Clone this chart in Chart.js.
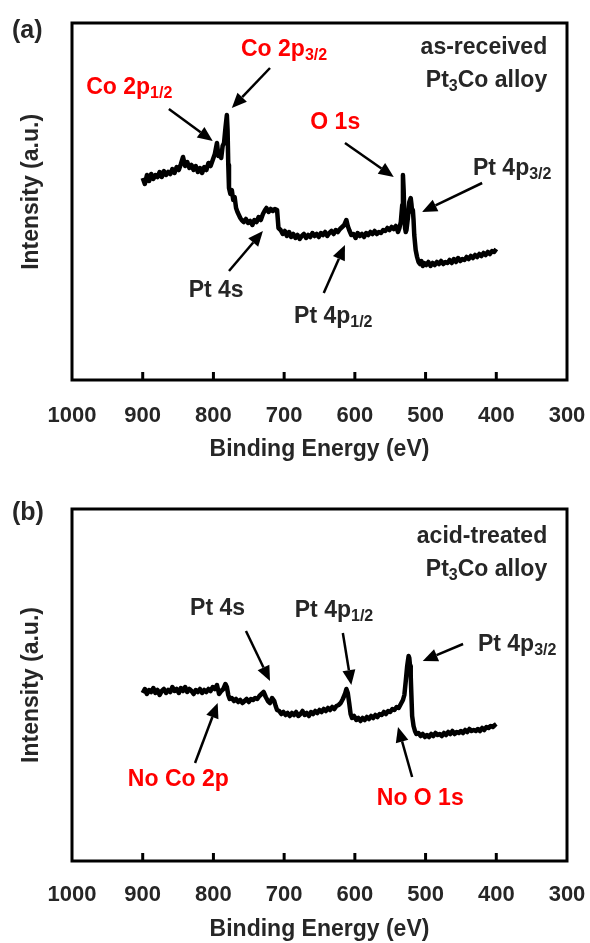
<!DOCTYPE html>
<html>
<head>
<meta charset="utf-8">
<script src="https://cdn.jsdelivr.net/npm/chart.js@4.4.0/dist/chart.umd.min.js"></script>
<style>
  body { margin: 0; background: #fff; }
  .panel { position: relative; width: 590px; }
  #wrapA { height: 471px; }
  #wrapB { height: 472px; }
</style>
</head>
<body>
<div class="panel" id="wrapA"><canvas id="chartA"></canvas></div>
<div class="panel" id="wrapB"><canvas id="chartB"></canvas></div>
<script>
// x axis (binding energy, reversed) tick labels
const xTicks = [1000, 900, 800, 700, 600, 500, 400, 300];
const innerTicks = [900, 800, 700, 600, 500, 400];

// (a) as-received Pt3Co
const energyA = [900, 897, 894, 891, 888, 885, 882, 879, 876, 873, 870, 867, 864, 861, 858, 855, 852, 849, 846, 843,
  840, 837, 834, 831, 828, 825, 822, 819, 816, 813, 810, 807, 804, 801, 798, 795, 793, 791, 789, 787,
  785, 783, 781, 780, 779, 778, 776, 774, 772, 770, 768, 766, 764, 762, 760, 757, 754, 751, 748, 745,
  742, 739, 736, 733, 730, 727, 725, 722, 719, 716, 713, 710, 708, 705, 702, 699, 696, 693, 690, 687,
  684, 681, 678, 675, 672, 669, 666, 663, 660, 657, 654, 651, 648, 645, 642, 639, 636, 633, 630, 627,
  624, 621, 618, 615, 612, 610, 608, 605, 602, 599, 596, 593, 590, 587, 584, 581, 578, 575, 572, 569,
  566, 563, 560, 557, 554, 551, 548, 545, 542, 539, 537, 535, 533, 532, 531, 530, 529, 528, 527, 525,
  523, 521, 520, 519, 518, 517, 516, 514, 512, 510, 508, 506, 504, 502, 499, 496, 493, 490, 487, 484,
  481, 478, 475, 472, 469, 466, 463, 460, 457, 454, 451, 448, 445, 442, 439, 436, 433, 430, 427, 424,
  421, 418, 415, 412, 409, 406, 403, 400];
const intensityA = [202, 196, 205, 199, 206, 201, 205, 203, 208, 203, 209, 205, 208, 206, 211, 207, 213, 210, 216, 223,
  214, 218, 212, 215, 210, 214, 208, 212, 207, 213, 210, 217, 214, 220, 226, 237, 224, 228, 222, 234,
  237, 252, 265, 250, 215, 192, 186, 190, 180, 183, 172, 168, 165, 162, 160, 158, 161, 157, 159, 155,
  160, 158, 163, 160, 166, 170, 172, 168, 171, 169, 171, 170, 152, 150, 146, 149, 144, 148, 143, 146,
  142, 145, 141, 144, 146, 142, 145, 143, 147, 144, 146, 143, 147, 145, 148, 144, 147, 149, 146, 150,
  148, 151, 153, 155, 160, 154, 150, 145, 146, 142, 147, 144, 146, 143, 147, 145, 148, 146, 149, 146,
  148, 147, 150, 149, 152, 150, 153, 151, 154, 148, 152, 158, 175, 205, 190, 165, 152, 148, 150, 162,
  178, 182, 176, 168, 170, 160, 145, 130, 123, 118, 116, 119, 114, 117, 115, 118, 114, 117, 115, 118,
  116, 119, 116, 118, 117, 120, 117, 121, 118, 122, 119, 121, 120, 123, 121, 124, 122, 125, 123, 126,
  124, 127, 125, 128, 126, 129, 128, 131];

// (b) acid-treated Pt3Co
const energyB = [900, 897, 894, 891, 888, 885, 882, 879, 876, 873, 870, 867, 864, 861, 858, 855, 852, 849, 846, 843,
  840, 837, 834, 831, 828, 825, 822, 819, 816, 813, 810, 807, 804, 801, 798, 795, 792, 789, 786, 783,
  781, 779, 777, 774, 771, 768, 765, 762, 759, 756, 753, 750, 747, 744, 741, 738, 735, 732, 729, 726,
  723, 720, 717, 714, 712, 710, 707, 704, 701, 698, 695, 692, 689, 686, 683, 680, 677, 674, 671, 668,
  665, 662, 659, 656, 653, 650, 647, 644, 641, 638, 635, 632, 629, 626, 623, 620, 617, 614, 612, 610,
  608, 606, 604, 601, 598, 595, 592, 589, 586, 583, 580, 577, 574, 571, 568, 565, 562, 559, 556, 553,
  550, 547, 544, 541, 538, 535, 532, 530, 528, 526, 524, 523, 522, 521, 520, 519, 517, 515, 513, 510,
  507, 504, 501, 498, 495, 492, 489, 486, 483, 480, 477, 474, 471, 468, 465, 462, 459, 456, 453, 450,
  447, 444, 441, 438, 435, 432, 429, 426, 423, 420, 417, 414, 411, 408, 405, 402, 400];
const intensityB = [168, 172, 167, 171, 169, 173, 168, 171, 166, 170, 172, 168, 171, 169, 174, 170, 172, 168, 173, 170,
  174, 169, 172, 170, 167, 171, 169, 172, 168, 171, 169, 172, 170, 174, 172, 176, 167, 170, 172, 177,
  174, 166, 162, 163, 160, 162, 159, 161, 158, 160, 162, 159, 162, 161, 163, 162, 165, 167, 169, 164,
  160, 158, 163, 160, 155, 151, 150, 147, 149, 146, 148, 145, 148, 146, 149, 145, 147, 150, 146, 148,
  145, 149, 147, 150, 148, 151, 149, 152, 150, 153, 151, 154, 152, 155, 156, 158, 162, 167, 172, 168,
  158, 147, 143, 145, 141, 143, 140, 143, 141, 144, 142, 145, 143, 146, 144, 147, 146, 149, 147, 150,
  149, 152, 151, 154, 153, 157, 161, 166, 180, 195, 205, 203, 195, 185, 165, 145, 135, 130, 127, 128,
  125, 127, 124, 126, 124, 127, 125, 128, 126, 127, 125, 128, 126, 129, 127, 130, 127, 129, 128, 130,
  128, 131, 129, 132, 130, 131, 130, 132, 130, 133, 131, 134, 133, 135, 134, 136, 137];

const FONT = '"Liberation Sans", Arial, Helvetica, sans-serif';
const RED = '#ff0000';
const INK = '#262626';

// annotation text: [energy, intensity, parts, colour, align]; parts = [text, isSubscript]
const labelsA = [
  [761, 332, [['Co 2p', 0], ['3/2', 1]], RED, 'left'],
  [980, 294, [['Co 2p', 0], ['1/2', 1]], RED, 'left'],
  [663, 259, [['O 1s', 0]], RED, 'left'],
  [433, 213, [['Pt 4p', 0], ['3/2', 1]], INK, 'left'],
  [835, 91, [['Pt 4s', 0]], INK, 'left'],
  [686, 65, [['Pt 4p', 0], ['1/2', 1]], INK, 'left'],
  [328, 334, [['as-received', 0]], INK, 'right'],
  [328, 301, [['Pt', 0], ['3', 1], ['Co alloy', 0]], INK, 'right']
];
const arrowsA = [
  [720, 312, 774, 272],
  [863, 271, 801, 239],
  [614, 237, 545, 203],
  [420, 197, 505, 168],
  [778, 109, 730, 149],
  [644, 87, 614, 135]
];
const labelsB = [
  [328, 326, [['acid-treated', 0]], INK, 'right'],
  [328, 293, [['Pt', 0], ['3', 1], ['Co alloy', 0]], INK, 'right'],
  [833, 254, [['Pt 4s', 0]], INK, 'left'],
  [685, 252, [['Pt 4p', 0], ['1/2', 1]], INK, 'left'],
  [426, 218, [['Pt 4p', 0], ['3/2', 1]], INK, 'left'],
  [921, 83, [['No Co 2p', 0]], RED, 'left'],
  [569, 64, [['No O 1s', 0]], RED, 'left']
];
const arrowsB = [
  [754, 230, 720, 180],
  [617, 228, 605, 176],
  [447, 217, 504, 200],
  [826, 98, 794, 158],
  [519, 84, 539, 134]
];

function drawParts(ctx, parts, x, cy, align, color) {
  const fontOf = p => `bold ${p[1] ? 16 : 23}px ${FONT}`;
  let w = 0;
  parts.forEach(p => { ctx.font = fontOf(p); w += ctx.measureText(p[0]).width; });
  let cx = align === 'right' ? x - w : x;
  const base = cy + 8;
  ctx.fillStyle = color;
  ctx.textAlign = 'left';
  ctx.textBaseline = 'alphabetic';
  parts.forEach(p => {
    ctx.font = fontOf(p);
    ctx.fillText(p[0], cx, p[1] ? base + 4 : base);
    cx += ctx.measureText(p[0]).width;
  });
}

function drawArrow(ctx, x1, y1, x2, y2) {
  const a = Math.atan2(y2 - y1, x2 - x1);
  const L = 15, W = 6.5;
  const bx = x2 - L * Math.cos(a), by = y2 - L * Math.sin(a);
  ctx.strokeStyle = '#000';
  ctx.fillStyle = '#000';
  ctx.lineWidth = 2.5;
  ctx.beginPath();
  ctx.moveTo(x1, y1);
  ctx.lineTo(bx, by);
  ctx.stroke();
  ctx.beginPath();
  ctx.moveTo(x2, y2);
  ctx.lineTo(bx + W * Math.sin(a), by - W * Math.cos(a));
  ctx.lineTo(bx - W * Math.sin(a), by + W * Math.cos(a));
  ctx.closePath();
  ctx.fill();
}

const framePlugin = {
  id: 'frame',
  afterDraw(chart, args, opts) {
    const ctx = chart.ctx;
    const { left, right, top, bottom } = chart.chartArea;
    const xs = chart.scales.x, ys = chart.scales.y;
    ctx.save();
    ctx.strokeStyle = '#000';
    ctx.lineWidth = 3;
    ctx.strokeRect(left, top, right - left, bottom - top);
    innerTicks.forEach(v => {
      const px = xs.getPixelForValue(v);
      ctx.beginPath();
      ctx.moveTo(px, bottom);
      ctx.lineTo(px, bottom - 8);
      ctx.stroke();
    });
    opts.arrows.forEach(a => {
      drawArrow(ctx, xs.getPixelForValue(a[0]), ys.getPixelForValue(a[1]),
        xs.getPixelForValue(a[2]), ys.getPixelForValue(a[3]));
    });
    opts.labels.forEach(l => {
      drawParts(ctx, l[2], xs.getPixelForValue(l[0]), ys.getPixelForValue(l[1]), l[4], l[3]);
    });
    ctx.font = `bold 25px ${FONT}`;
    ctx.fillStyle = INK;
    ctx.textAlign = 'left';
    ctx.textBaseline = 'middle';
    ctx.fillText(opts.letter, 12, opts.letterY);
    ctx.restore();
  }
};

function makeChart(id, energy, intensity, p) {
  return new Chart(document.getElementById(id), {
    type: 'line',
    data: {
      datasets: [{
        data: energy.map((e, i) => ({ x: e, y: intensity[i] })),
        borderColor: '#000',
        borderWidth: 4.5,
        borderJoinStyle: 'round',
        pointRadius: 0,
        tension: 0,
        fill: false
      }]
    },
    options: {
      animation: false,
      responsive: true,
      maintainAspectRatio: false,
      layout: { padding: { top: p.top, right: 23, bottom: 0, left: 0 } },
      plugins: {
        legend: { display: false },
        tooltip: { enabled: false },
        frame: { letter: p.letter, letterY: p.letterY, labels: p.labels, arrows: p.arrows }
      },
      scales: {
        x: {
          type: 'linear',
          reverse: true,
          min: 300,
          max: 1000,
          afterBuildTicks: s => { s.ticks = xTicks.map(v => ({ value: v })); },
          afterFit: s => { s.height = p.xH; s.paddingLeft = 0; s.paddingRight = 0; },
          grid: { display: false, drawTicks: false },
          border: { display: false },
          ticks: {
            autoSkip: false,
            maxRotation: 0,
            padding: p.tickPad,
            color: INK,
            font: { family: FONT, size: 22, weight: 'bold' },
            callback: v => String(v)
          },
          title: {
            display: true,
            text: 'Binding Energy (eV)',
            color: INK,
            font: { family: FONT, size: 23, weight: 'bold' },
            padding: { top: 0, bottom: p.titlePad }
          }
        },
        y: {
          min: 0,
          max: p.yMax,
          afterFit: s => { s.width = 72; },
          grid: { display: false, drawTicks: false },
          border: { display: false },
          ticks: { display: false },
          title: {
            display: true,
            text: p.yTitle,
            color: INK,
            font: { family: FONT, size: 23, weight: 'bold' },
            padding: { top: 18, bottom: 0 }
          }
        }
      }
    },
    plugins: [framePlugin]
  });
}

makeChart('chartA', energyA, intensityA, {
  top: 23, xH: 91, yMax: 357, tickPad: 23, titlePad: 8, yTitle: '   Intensity (a.u.)',
  letter: '(a)', letterY: 31, labels: labelsA, arrows: arrowsA
});
makeChart('chartB', energyB, intensityB, {
  top: 38, xH: 82, yMax: 352, tickPad: 21, titlePad: 0, yTitle: 'Intensity (a.u.)',
  letter: '(b)', letterY: 42, labels: labelsB, arrows: arrowsB
});
</script>
</body>
</html>
